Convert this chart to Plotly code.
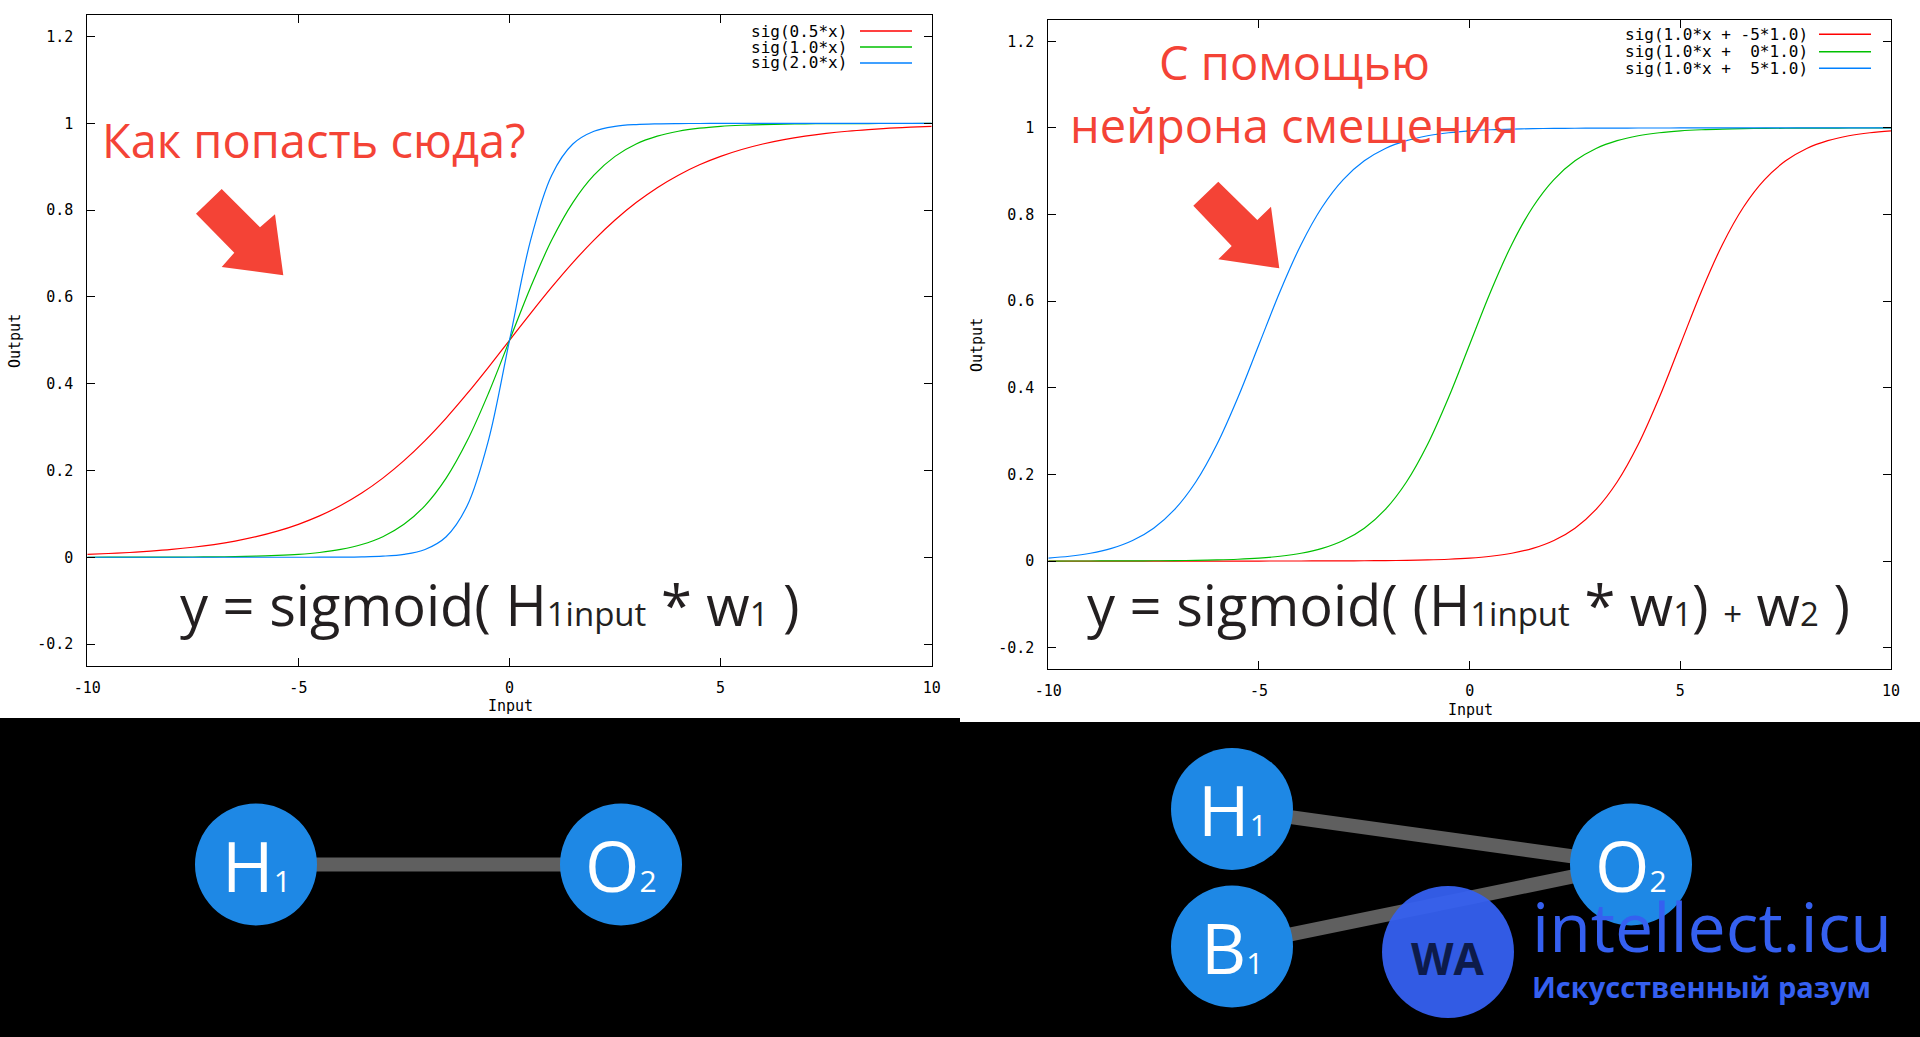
import plotly.graph_objects as go

# ---------------- data ----------------
x_vals = [-10, -9.5, -9, -8.5, -8, -7.5, -7, -6.5, -6, -5.5, -5, -4.5, -4, -3.5, -3, -2.5, -2, -1.5, -1, -0.5,
          0, 0.5, 1, 1.5, 2, 2.5, 3, 3.5, 4, 4.5, 5, 5.5, 6, 6.5, 7, 7.5, 8, 8.5, 9, 9.5, 10]

left_names = ["sig(0.5*x)", "sig(1.0*x)", "sig(2.0*x)"]
left_sig05 = [0.0067, 0.0086, 0.0110, 0.0141, 0.0180, 0.0230, 0.0293, 0.0373, 0.0474, 0.0601, 0.0759,
              0.0953, 0.1192, 0.1480, 0.1824, 0.2227, 0.2689, 0.3208, 0.3775, 0.4378, 0.5,
              0.5622, 0.6225, 0.6792, 0.7311, 0.7773, 0.8176, 0.8520, 0.8808, 0.9047, 0.9241,
              0.9399, 0.9526, 0.9627, 0.9707, 0.9770, 0.9820, 0.9859, 0.9890, 0.9914, 0.9933]
left_sig10 = [0.0000, 0.0001, 0.0001, 0.0002, 0.0003, 0.0006, 0.0009, 0.0015, 0.0025, 0.0041, 0.0067,
              0.0110, 0.0180, 0.0293, 0.0474, 0.0759, 0.1192, 0.1824, 0.2689, 0.3775, 0.5,
              0.6225, 0.7311, 0.8176, 0.8808, 0.9241, 0.9526, 0.9707, 0.9820, 0.9890, 0.9933,
              0.9959, 0.9975, 0.9985, 0.9991, 0.9994, 0.9997, 0.9998, 0.9999, 0.9999, 1.0000]
left_sig20 = [0.0000, 0.0000, 0.0000, 0.0000, 0.0000, 0.0000, 0.0000, 0.0000, 0.0000, 0.0000, 0.0000,
              0.0001, 0.0003, 0.0009, 0.0025, 0.0067, 0.0180, 0.0474, 0.1192, 0.2689, 0.5,
              0.7311, 0.8808, 0.9526, 0.9820, 0.9933, 0.9975, 0.9991, 0.9997, 0.9999, 1.0000,
              1.0000, 1.0000, 1.0000, 1.0000, 1.0000, 1.0000, 1.0000, 1.0000, 1.0000, 1.0000]

right_names = ["sig(1.0*x + -5*1.0)", "sig(1.0*x +  0*1.0)", "sig(1.0*x +  5*1.0)"]
right_red = [0.0000, 0.0000, 0.0000, 0.0000, 0.0000, 0.0000, 0.0000, 0.0000, 0.0000, 0.0000, 0.0000,
             0.0001, 0.0001, 0.0002, 0.0003, 0.0006, 0.0009, 0.0015, 0.0025, 0.0041, 0.0067,
             0.0110, 0.0180, 0.0293, 0.0474, 0.0759, 0.1192, 0.1824, 0.2689, 0.3775, 0.5,
             0.6225, 0.7311, 0.8176, 0.8808, 0.9241, 0.9526, 0.9707, 0.9820, 0.9890, 0.9933]
right_green = [0.0000, 0.0001, 0.0001, 0.0002, 0.0003, 0.0006, 0.0009, 0.0015, 0.0025, 0.0041, 0.0067,
               0.0110, 0.0180, 0.0293, 0.0474, 0.0759, 0.1192, 0.1824, 0.2689, 0.3775, 0.5,
               0.6225, 0.7311, 0.8176, 0.8808, 0.9241, 0.9526, 0.9707, 0.9820, 0.9890, 0.9933,
               0.9959, 0.9975, 0.9985, 0.9991, 0.9994, 0.9997, 0.9998, 0.9999, 0.9999, 1.0000]
right_blue = [0.0067, 0.0110, 0.0180, 0.0293, 0.0474, 0.0759, 0.1192, 0.1824, 0.2689, 0.3775, 0.5,
              0.6225, 0.7311, 0.8176, 0.8808, 0.9241, 0.9526, 0.9707, 0.9820, 0.9890, 0.9933,
              0.9959, 0.9975, 0.9985, 0.9991, 0.9994, 0.9997, 0.9998, 0.9999, 0.9999, 1.0000,
              1.0000, 1.0000, 1.0000, 1.0000, 1.0000, 1.0000, 1.0000, 1.0000, 1.0000, 1.0000]

x_ticks = [-10, -5, 0, 5, 10]
x_ticktext = ["-10", "-5", "0", "5", "10"]
y_ticks = [-0.2, 0, 0.2, 0.4, 0.6, 0.8, 1.0, 1.2]
y_ticktext = ["-0.2", "0", "0.2", "0.4", "0.6", "0.8", "1", "1.2"]

series_colors = ["#ff0000", "#00c000", "#0080ff"]

# ---------------- helpers (pixel -> paper) ----------------
W, H = 1920, 1037
def PX(v): return v / W
def PY(v): return 1 - v / H

fig = go.Figure()

for ys, name, col in zip([left_sig05, left_sig10, left_sig20], left_names, series_colors):
    fig.add_trace(go.Scatter(x=x_vals, y=ys, name=name, mode="lines", line=dict(color=col, width=1.2, shape="spline"),
                             xaxis="x", yaxis="y", showlegend=False))
for ys, name, col in zip([right_red, right_green, right_blue], right_names, series_colors):
    fig.add_trace(go.Scatter(x=x_vals, y=ys, name=name, mode="lines", line=dict(color=col, width=1.2, shape="spline"),
                             xaxis="x2", yaxis="y2", showlegend=False))

tickfont = dict(family="DejaVu Sans Mono", size=15, color="black")
axis_common = dict(showgrid=False, zeroline=False, showline=True, linecolor="black", linewidth=1,
                   mirror="ticks", ticks="inside", ticklen=8, tickcolor="black", tickwidth=1,
                   tickfont=tickfont, automargin=False)

fig.update_layout(
    width=W, height=H,
    margin=dict(l=0, r=0, t=0, b=0, pad=0, autoexpand=False),
    paper_bgcolor="black", plot_bgcolor="white",
    xaxis=dict(domain=[PX(87.3), PX(931.7)], range=[-10, 10], tickvals=x_ticks, ticktext=x_ticktext,
               anchor="y", ticklabelstandoff=8, **axis_common),
    yaxis=dict(domain=[PY(665.7), PY(15)], range=[-0.25, 1.25], tickvals=y_ticks, ticktext=y_ticktext,
               anchor="x", ticklabelstandoff=10, **axis_common),
    xaxis2=dict(domain=[PX(1048.3), PX(1891)], range=[-10, 10], tickvals=x_ticks, ticktext=x_ticktext,
                anchor="y2", ticklabelstandoff=8, **axis_common),
    yaxis2=dict(domain=[PY(669.3), PY(19.7)], range=[-0.25, 1.25], tickvals=y_ticks, ticktext=y_ticktext,
                anchor="x2", ticklabelstandoff=10, **axis_common),
)

shapes = []
# white backgrounds of the two gnuplot images
shapes.append(dict(type="rect", xref="paper", yref="paper", x0=0, x1=PX(960), y0=PY(718), y1=1,
                   fillcolor="white", line=dict(width=0), layer="below"))
shapes.append(dict(type="rect", xref="paper", yref="paper", x0=PX(960), x1=1, y0=PY(722), y1=1,
                   fillcolor="white", line=dict(width=0), layer="below"))

def poly(points):
    return "M " + " L ".join(f"{PX(a):.5f},{PY(b):.5f}" for a, b in points) + " Z"

red = "#f44336"
arrow_left = [(221.7, 189), (196, 213.7), (234.3, 252.7), (221.7, 267), (283.3, 275.3), (275, 214.3), (260, 227.3)]
arrow_right = [(1218.3, 181.7), (1193.3, 205.7), (1231.7, 246), (1218.3, 259.3), (1279.3, 268.3), (1271, 206.7), (1257.3, 220)]
for pts in (arrow_left, arrow_right):
    shapes.append(dict(type="path", xref="paper", yref="paper", path=poly(pts), fillcolor=red, line=dict(width=0)))

# network diagrams
edge_col = "#5f5f5f"
node_col = "#1e88e5"
R = 61
nodes = {"H1L": (256, 864.5), "O2L": (621, 864.5), "H1R": (1232, 809), "B1R": (1232, 946.5), "O2R": (1631, 864.5)}
for a, b in [("H1L", "O2L"), ("H1R", "O2R"), ("B1R", "O2R")]:
    (xa, ya), (xb, yb) = nodes[a], nodes[b]
    shapes.append(dict(type="line", xref="paper", yref="paper", x0=PX(xa), y0=PY(ya), x1=PX(xb), y1=PY(yb),
                       line=dict(color=edge_col, width=14)))
for k, (cx, cy) in nodes.items():
    shapes.append(dict(type="circle", xref="paper", yref="paper", x0=PX(cx - R), x1=PX(cx + R),
                       y0=PY(cy + R), y1=PY(cy - R), fillcolor=node_col, line=dict(width=0)))
# watermark circle
wm = "#3560f0"
shapes.append(dict(type="circle", xref="paper", yref="paper", x0=PX(1448 - 66), x1=PX(1448 + 66),
                   y0=PY(952 + 66), y1=PY(952 - 66), fillcolor=wm, opacity=0.95, line=dict(width=0)))

anns = []
def ann(x, y, text, size, color="black", family="DejaVu Sans Mono", xanchor="center", yanchor="middle", **kw):
    anns.append(dict(xref="paper", yref="paper", x=PX(x), y=PY(y), text=text, showarrow=False,
                     font=dict(family=family, size=size, color=color), xanchor=xanchor, yanchor=yanchor, **kw))

# axis titles
ann(510, 706, "Input", 15)
ann(1470, 710, "Input", 15)
ann(15, 341, "Output", 15, textangle=-90)
ann(977, 345, "Output", 15, textangle=-90)

# manual gnuplot-style legends
def legend(names, text_right, line_x0, line_x1, rows):
    for name, col, yy in zip(names, series_colors, rows):
        ann(text_right, yy, name.replace(" ", "\u00a0"), 16, xanchor="right", borderpad=0)
        shapes.append(dict(type="line", xref="paper", yref="paper", x0=PX(line_x0), x1=PX(line_x1),
                           y0=PY(yy), y1=PY(yy), line=dict(color=col, width=1.5)))
legend(left_names, 848, 860, 912, [31, 47, 63])
legend(right_names, 1809, 1819, 1871, [34.3, 51.7, 68.3])

# red captions
cap_font = "Open Sans"
ann(100, 140, "Как попасть сюда?", 47, color=red, family=cap_font, xanchor="left")
ann(1294, 62, "С помощью", 47, color=red, family=cap_font)
ann(1294, 125, "нейрона смещения", 47, color=red, family=cap_font)

# formulas
fm_font = "Open Sans"
s1 = "<span style='font-size:33px'>1</span>"
sin = "<span style='font-size:33px'>input</span>"
ann(490, 604, f"y = sigmoid( H{s1}{sin} * w{s1} )", 56, color="#231f20", family=fm_font)
ann(1468, 604, f"y = sigmoid( (H{s1}{sin} * w{s1}) <span style='font-size:33px'>+</span> w<span style='font-size:33px'>2</span> )",
    56, color="#231f20", family=fm_font)

# node labels
lab_sub = "<span style='font-size:30px'>{}</span>"
for k, (cx, cy) in nodes.items():
    letter = k[0]
    num = k[1]
    ann(cx, cy, f"{letter}{lab_sub.format(num)}", 70, color="white", family="Open Sans", borderpad=0)

# watermark text
ann(1448, 958, "<b>WA</b>", 44, color="#0d1b4a", family="Open Sans", borderpad=0)
ann(1531, 925, "intellect.icu", 68, color=wm, family="Open Sans", xanchor="left", borderpad=0)
ann(1531, 986, "<b>Искусственный разум</b>", 29, color=wm, family="Open Sans", xanchor="left", borderpad=0)

fig.update_layout(shapes=shapes, annotations=anns)
fig.write_html("out.html", config={"displayModeBar": False})
